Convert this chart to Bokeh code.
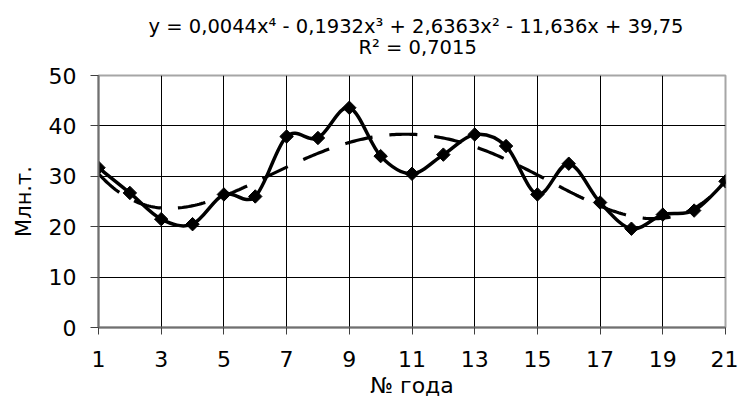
import numpy as np
from bokeh.plotting import figure
from bokeh.models import FixedTicker, ColumnDataSource
from bokeh.layouts import column
from bokeh.core.properties import value
from bokeh.embed import file_html
from bokeh.resources import INLINE

# ---- data ----
years = list(range(1, 22))
values = [31.7, 26.7, 21.5, 20.5, 26.4, 26.0, 37.9, 37.6, 43.6, 34.0, 30.5,
          34.3, 38.3, 36.0, 26.4, 32.5, 24.8, 19.6, 22.4, 23.2, 29.0]
x_ticks = [1, 3, 5, 7, 9, 11, 13, 15, 17, 19, 21]
y_ticks = [0, 10, 20, 30, 40, 50]
equation_text = "y = 0,0044x\u2074 - 0,1932x\u00b3 + 2,6363x\u00b2 - 11,636x + 39,75"
r2_text = "R\u00b2 = 0,7015"
x_title = "\u2116 года"
y_title = "Млн.т."

FONT = "DejaVu Sans"
W = 738
HEAD_H = 58
LEFT, RIGHT = 98, 13

# ---- header with the trendline equation (page-pixel coordinates) ----
# frames of plots in a column are aligned, so give the header the same borders
head = figure(width=W, height=HEAD_H, output_backend="svg", toolbar_location=None,
              x_range=(LEFT, W - RIGHT), y_range=(0, HEAD_H),
              x_axis_location=None, y_axis_location=None,
              min_border_left=LEFT, min_border_right=RIGHT,
              min_border_top=0, min_border_bottom=0)
head.grid.visible = False
head.outline_line_color = None
head.background_fill_color = "white"
head.border_fill_color = "white"
hsrc = ColumnDataSource(dict(x=[148, 358], y=[HEAD_H - 26, HEAD_H - 46.5],
                             t=[equation_text, r2_text]))
head.text(x="x", y="y", text="t", source=hsrc, text_align="left",
          text_baseline="alphabetic", text_font=value(FONT),
          text_font_size="19.5px", text_color="black")

# ---- main chart ----
p = figure(width=W, height=403 - HEAD_H, output_backend="svg", toolbar_location=None,
           x_range=(1, 21), y_range=(0, 50),
           min_border_left=LEFT, min_border_right=RIGHT,
           min_border_top=75 - HEAD_H, min_border_bottom=76)
p.background_fill_color = "white"
p.border_fill_color = "white"
p.outline_line_color = "#a6a6a6"
p.outline_line_width = 2

p.xgrid.ticker = FixedTicker(ticks=x_ticks)
p.ygrid.ticker = FixedTicker(ticks=y_ticks)
for g in (p.xgrid, p.ygrid):
    g.grid_line_color = "black"
    g.grid_line_width = 1

for ax in (p.xaxis, p.yaxis):
    ax.axis_line_color = "#707070"
    ax.axis_line_width = 2
    ax.major_tick_line_color = "#404040"
    ax.major_tick_line_width = 1
    ax.major_tick_in = 0
    ax.minor_tick_line_color = None
    ax.major_label_text_font = FONT
    ax.major_label_text_font_size = "22px"
    ax.major_label_text_color = "black"
    ax.axis_label_text_font = FONT
    ax.axis_label_text_font_style = "normal"
    ax.axis_label_text_color = "black"

p.xaxis.axis_label_text_font_size = "22px"
p.yaxis.axis_label_text_font_size = "21px"
p.xaxis.ticker = FixedTicker(ticks=x_ticks)
p.yaxis.ticker = FixedTicker(ticks=y_ticks)
p.xaxis.major_tick_out = 7
p.yaxis.major_tick_out = 8
p.xaxis.major_label_standoff = 16
p.yaxis.major_label_standoff = 14
p.xaxis.axis_label = x_title
p.yaxis.axis_label = y_title
p.xaxis.axis_label_standoff = 3
p.yaxis.axis_label_standoff = 10

# polynomial (degree 4) trend computed from the data
x = np.array(years, dtype=float)
y = np.array(values, dtype=float)
coef = np.polyfit(x, y, 4)
xs = np.linspace(x[0], x[-1], 300)
ys = np.polyval(coef, xs)
p.line(xs, ys, line_color="black", line_width=3.2, line_dash="28 17")

# smoothed data line (Catmull-Rom style Bezier through the points)
xp = np.concatenate([[x[0]], x, [x[-1]]])
yp = np.concatenate([[y[0]], y, [y[-1]]])
n = len(x)
i = np.arange(n - 1)
x0, y0 = xp[i + 1], yp[i + 1]
x1, y1 = xp[i + 2], yp[i + 2]
cx0 = x0 + (xp[i + 2] - xp[i]) / 6.0
cy0 = y0 + (yp[i + 2] - yp[i]) / 6.0
cx1 = x1 - (xp[i + 3] - xp[i + 1]) / 6.0
cy1 = y1 - (yp[i + 3] - yp[i + 1]) / 6.0
p.bezier(x0=x0, y0=y0, x1=x1, y1=y1, cx0=cx0, cy0=cy0, cx1=cx1, cy1=cy1,
         line_color="black", line_width=3.5, line_cap="round")

# diamond markers
p.scatter(x, y, marker="square", angle=np.pi / 4, size=9.5,
          fill_color="black", line_color="black", line_width=1)

layout = column(head, p, spacing=0)
open("out.html", "w").write(file_html(layout, INLINE))
